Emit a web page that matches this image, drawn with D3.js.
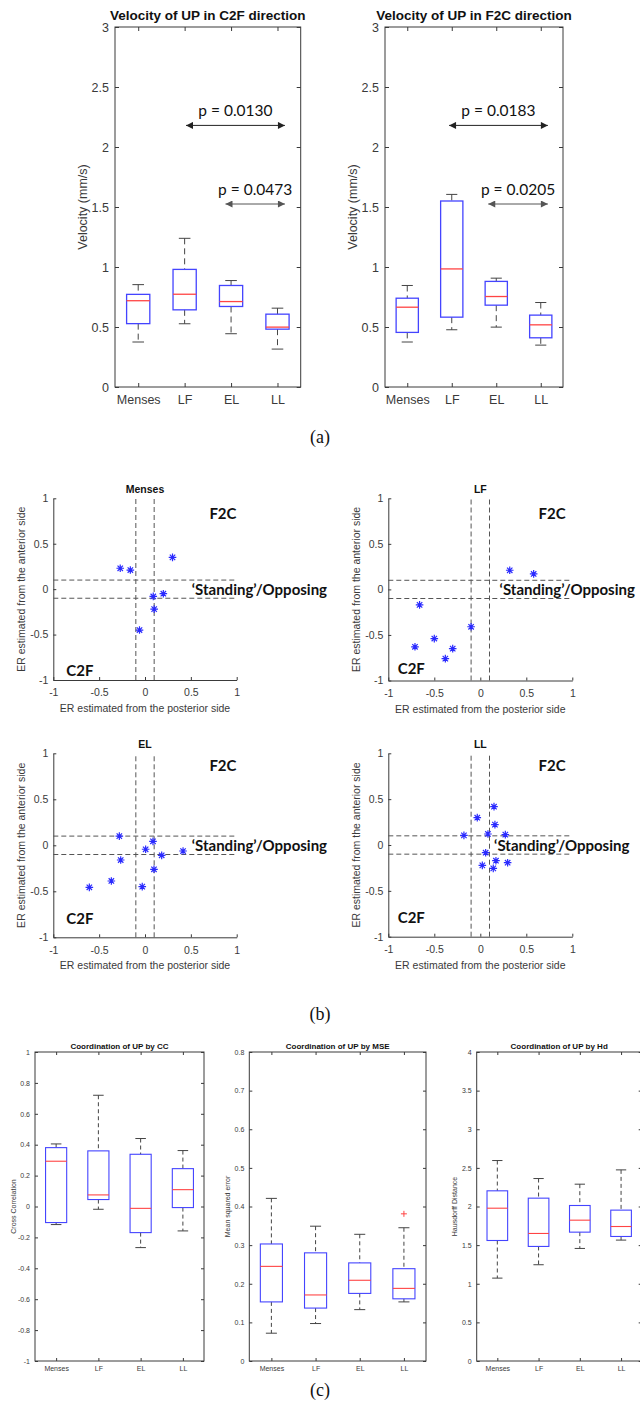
<!DOCTYPE html>
<html>
<head>
<meta charset="utf-8">
<script src="https://cdn.jsdelivr.net/npm/d3@7"></script>
<style>
  body { margin: 0; background: #fff; }
  svg { display: block; }
</style>
</head>
<body>
<script>
const categories = ["Menses", "LF", "EL", "LL"];

// box stats per phase: [lower whisker, q1, median, q3, upper whisker]
const c2fVelocity = [
  [0.375, 0.528, 0.719, 0.772, 0.853],
  [0.527, 0.643, 0.773, 0.98, 1.239],
  [0.444, 0.671, 0.712, 0.846, 0.887],
  [0.316, 0.482, 0.499, 0.607, 0.657]
];
const f2cVelocity = [
  [0.375, 0.455, 0.665, 0.74, 0.846],
  [0.477, 0.582, 0.984, 1.55, 1.605],
  [0.499, 0.682, 0.754, 0.88, 0.907],
  [0.349, 0.41, 0.518, 0.599, 0.704]
];
const velocityTicks = [0, 0.5, 1, 1.5, 2, 2.5, 3];

// significance brackets: [from phase, to phase, velocity, label]
const c2fPValues = [[2.03, 4.16, 2.18, "p = 0.0130"], [2.88, 4.16, 1.525, "p = 0.0473"]];
const f2cPValues = [[1.94, 4.16, 2.18, "p = 0.0183"], [2.82, 4.16, 1.525, "p = 0.0205"]];

// ER points: [posterior side, anterior side]
const mensesER = [[-0.27, 0.23], [-0.16, 0.21], [0.30, 0.35], [0.09, -0.08], [0.20, -0.05], [0.10, -0.22], [-0.06, -0.45]];
const lfER = [[-0.66, -0.17], [-0.71, -0.63], [-0.50, -0.54], [-0.38, -0.76], [-0.30, -0.65], [-0.10, -0.41], [0.32, 0.21], [0.58, 0.17]];
const elER = [[-0.28, 0.10], [-0.265, -0.16], [-0.607, -0.457], [-0.367, -0.388], [-0.03, -0.449], [0.007, -0.043], [0.087, 0.043], [0.182, -0.109], [0.098, -0.261], [0.415, -0.062]];
const llER = [[-0.178, 0.105], [-0.033, 0.298], [0.083, 0.12], [0.149, 0.418], [0.159, 0.222], [0.272, 0.113], [0.058, -0.084], [0.022, -0.222], [0.141, -0.255], [0.17, -0.171], [0.297, -0.193]];
const erBand = [-0.1, 0.1];
const erTicks = [-1, -0.5, 0, 0.5, 1];

const ccStats = [
  [-0.117, -0.104, 0.293, 0.381, 0.405],
  [-0.018, 0.045, 0.075, 0.36, 0.72],
  [-0.266, -0.169, -0.012, 0.338, 0.44],
  [-0.158, -0.007, 0.109, 0.245, 0.362]
];
const mseStats = [
  [0.072, 0.153, 0.245, 0.303, 0.421],
  [0.097, 0.137, 0.171, 0.28, 0.349],
  [0.133, 0.175, 0.209, 0.254, 0.328],
  [0.153, 0.161, 0.188, 0.239, 0.345]
];
const mseOutliers = [[4, 0.381]];
const hdStats = [
  [1.073, 1.56, 1.978, 2.203, 2.595],
  [1.246, 1.483, 1.651, 2.108, 2.362],
  [1.457, 1.668, 1.823, 2.013, 2.289],
  [1.565, 1.612, 1.741, 1.953, 2.474]
];
const ccTicks = [-1, -0.8, -0.6, -0.4, -0.2, 0, 0.2, 0.4, 0.6, 0.8, 1];
const mseTicks = [0, 0.1, 0.2, 0.3, 0.4, 0.5, 0.6, 0.7, 0.8];
const hdTicks = [0, 0.5, 1, 1.5, 2, 2.5, 3, 3.5, 4];

const AXIS = "#3a3a3a";
const BLUE = "#4444ff";
const RED = "#ff4444";
const WHISK = "#444";
const SANS = "'Liberation Sans', Arial, sans-serif";
const CALIBRI = "Lato, 'Open Sans', sans-serif";

const svg = d3.select("body").append("svg")
  .attr("width", 640).attr("height", 1414)
  .style("font-family", SANS);

const defs = svg.append("defs");
defs.append("marker")
  .attr("id", "head")
  .attr("viewBox", "0 0 10 10")
  .attr("refX", 10).attr("refY", 5)
  .attr("markerWidth", 8).attr("markerHeight", 7)
  .attr("markerUnits", "userSpaceOnUse")
  .attr("orient", "auto-start-reverse")
  .append("path").attr("d", "M0,0L10,5L0,10z").attr("fill", "context-stroke");

function styleAxis(sel, size) {
  sel.attr("font-family", null).attr("font-size", size).attr("color", AXIS);
  sel.selectAll(".tick text").attr("fill", AXIS);
}

function boxPanel(o) {
  const x = d3.scaleLinear().domain([0.5, 4.5]).range([o.left, o.right]);
  const y = d3.scaleLinear().domain(o.domain).range([o.bottom, o.top]);
  const g = svg.append("g");
  const phases = [1, 2, 3, 4];

  g.append("g").attr("transform", `translate(${o.left},0)`)
    .call(d3.axisLeft(y).tickValues(o.yTicks).tickFormat(d => String(d))
      .tickSizeInner(-o.tick).tickSizeOuter(0).tickPadding(o.padY))
    .call(styleAxis, o.font);
  g.append("g").attr("transform", `translate(${o.right},0)`)
    .call(d3.axisRight(y).tickValues(o.yTicks).tickFormat(() => "")
      .tickSizeInner(-o.tick).tickSizeOuter(0))
    .call(styleAxis, o.font);
  g.append("g").attr("transform", `translate(0,${o.bottom})`)
    .call(d3.axisBottom(x).tickValues(phases).tickFormat(d => categories[d - 1])
      .tickSizeInner(-o.tick).tickSizeOuter(0).tickPadding(o.padX))
    .call(styleAxis, o.font);
  g.append("g").attr("transform", `translate(0,${o.top})`)
    .call(d3.axisTop(x).tickValues(phases).tickFormat(() => "")
      .tickSizeInner(-o.tick).tickSizeOuter(0))
    .call(styleAxis, o.font);
  g.selectAll(".domain").remove();
  g.append("rect")
    .attr("x", o.left).attr("y", o.top)
    .attr("width", o.right - o.left).attr("height", o.bottom - o.top)
    .attr("fill", "none").attr("stroke", AXIS);

  const half = 0.25, cap = 0.125;
  const box = g.selectAll(".box").data(o.stats).join("g").attr("class", "box");
  box.append("line")
    .attr("x1", (d, i) => x(i + 1)).attr("x2", (d, i) => x(i + 1))
    .attr("y1", d => y(d[4])).attr("y2", d => y(d[3]))
    .attr("stroke", WHISK).attr("stroke-dasharray", o.dash);
  box.append("line")
    .attr("x1", (d, i) => x(i + 1)).attr("x2", (d, i) => x(i + 1))
    .attr("y1", d => y(d[1])).attr("y2", d => y(d[0]))
    .attr("stroke", WHISK).attr("stroke-dasharray", o.dash);
  [0, 4].forEach(k => {
    box.append("line")
      .attr("x1", (d, i) => x(i + 1 - cap)).attr("x2", (d, i) => x(i + 1 + cap))
      .attr("y1", d => y(d[k])).attr("y2", d => y(d[k]))
      .attr("stroke", WHISK);
  });
  box.append("rect")
    .attr("x", (d, i) => x(i + 1 - half))
    .attr("width", x(1 + half) - x(1 - half))
    .attr("y", d => y(d[3]))
    .attr("height", d => y(d[1]) - y(d[3]))
    .attr("fill", "none").attr("stroke", BLUE).attr("stroke-width", o.boxW);
  box.append("line")
    .attr("x1", (d, i) => x(i + 1 - half)).attr("x2", (d, i) => x(i + 1 + half))
    .attr("y1", d => y(d[2])).attr("y2", d => y(d[2]))
    .attr("stroke", RED).attr("stroke-width", o.boxW);

  if (o.outliers) {
    g.selectAll(".out").data(o.outliers).join("path")
      .attr("transform", d => `translate(${x(d[0])},${y(d[1])})`)
      .attr("d", "M-3,0H3M0,-3V3")
      .attr("stroke", RED).attr("fill", "none");
  }

  if (o.pvalues) {
    const p = g.selectAll(".pv").data(o.pvalues).join("g");
    p.append("line")
      .attr("x1", d => x(d[0])).attr("x2", d => x(d[1]))
      .attr("y1", d => y(d[2])).attr("y2", d => y(d[2]))
      .attr("stroke", (d, i) => i === 0 ? "#222" : "#555")
      .attr("marker-start", "url(#head)").attr("marker-end", "url(#head)");
    p.append("text")
      .attr("x", d => (x(d[0]) + x(d[1])) / 2)
      .attr("y", d => y(d[2]) - 9)
      .attr("text-anchor", "middle")
      .attr("font-family", CALIBRI).attr("font-size", 15.5)
      .attr("fill", "#111")
      .text(d => d[3]);
  }

  g.append("text")
    .attr("x", (o.left + o.right) / 2).attr("y", o.top - o.titleGap)
    .attr("text-anchor", "middle").attr("font-weight", "bold")
    .attr("font-size", o.titleSize).attr("fill", "#111")
    .text(o.title);
  g.append("text")
    .attr("transform", `translate(${o.left - o.ylabelGap},${(o.top + o.bottom) / 2}) rotate(-90)`)
    .attr("text-anchor", "middle").attr("dominant-baseline", "central")
    .attr("font-size", o.font).attr("fill", AXIS)
    .text(o.ylabel);
}

function erPanel(o) {
  const x = d3.scaleLinear().domain([-1, 1]).range([o.left, o.right]);
  const y = d3.scaleLinear().domain([-1, 1]).range([o.bottom, o.top]);
  const g = svg.append("g");

  g.append("g").attr("transform", `translate(${o.left},0)`)
    .call(d3.axisLeft(y).tickValues(erTicks).tickFormat(d => String(d))
      .tickSizeInner(-3).tickSizeOuter(0).tickPadding(5))
    .call(styleAxis, 10.5);
  g.append("g").attr("transform", `translate(0,${o.bottom})`)
    .call(d3.axisBottom(x).tickValues(erTicks).tickFormat(d => String(d))
      .tickSizeInner(-3).tickSizeOuter(0).tickPadding(9))
    .call(styleAxis, 10.5);

  erBand.forEach(v => {
    g.append("line")
      .attr("x1", x(v)).attr("x2", x(v)).attr("y1", y(-1)).attr("y2", y(1))
      .attr("stroke", "#555").attr("stroke-dasharray", "5,3");
    g.append("line")
      .attr("x1", x(-1)).attr("x2", x(1)).attr("y1", y(v)).attr("y2", y(v))
      .attr("stroke", "#555").attr("stroke-dasharray", "5,3");
  });

  g.selectAll(".pt").data(o.points).join("path")
    .attr("transform", d => `translate(${x(d[0])},${y(d[1])})`)
    .attr("d", "M-3.8,0H3.8M0,-3.8V3.8M-2.7,-2.7L2.7,2.7M-2.7,2.7L2.7,-2.7")
    .attr("stroke", "#2a2aff").attr("stroke-width", 1.2).attr("fill", "none");

  g.append("text")
    .attr("x", (o.left + o.right) / 2).attr("y", o.top - 9)
    .attr("text-anchor", "middle").attr("dominant-baseline", "central")
    .attr("font-weight", "bold").attr("font-size", 10.5).attr("fill", "#111")
    .text(o.title);

  const q = o.labels;
  g.append("text").attr("x", x(q.f2c[0])).attr("y", y(q.f2c[1]))
    .attr("text-anchor", "middle").attr("dominant-baseline", "central")
    .attr("font-family", CALIBRI).attr("font-weight", "bold").attr("font-size", 15)
    .attr("fill", "#111").text("F2C");
  g.append("text").attr("x", x(q.c2f[0])).attr("y", y(q.c2f[1]))
    .attr("text-anchor", "middle").attr("dominant-baseline", "central")
    .attr("font-family", CALIBRI).attr("font-weight", "bold").attr("font-size", 15)
    .attr("fill", "#111").text("C2F");
  g.append("text").attr("x", x(q.stand[0])).attr("y", y(q.stand[1]))
    .attr("text-anchor", "start").attr("dominant-baseline", "central")
    .attr("font-family", CALIBRI).attr("font-weight", "bold").attr("font-size", 15)
    .attr("fill", "#111").text("\u2018Standing\u2019/Opposing");

  g.append("text")
    .attr("x", (o.left + o.right) / 2).attr("y", o.bottom + 28)
    .attr("text-anchor", "middle").attr("dominant-baseline", "central")
    .attr("font-size", 10.5).attr("fill", AXIS)
    .text("ER estimated from the posterior side");
  g.append("text")
    .attr("transform", `translate(${o.left - 32},${(o.top + o.bottom) / 2}) rotate(-90)`)
    .attr("text-anchor", "middle").attr("dominant-baseline", "central")
    .attr("font-size", 10.5).attr("fill", AXIS)
    .text("ER estimated from the anterior side");
}

// (a) velocity
const velBase = { top: 27, bottom: 387, domain: [0, 3], yTicks: velocityTicks, font: 12.5,
  titleSize: 13.5, titleGap: 7, tick: 4, padY: 6, padX: 8, dash: "6,4", boxW: 1.3, ylabelGap: 32 };
boxPanel(Object.assign({}, velBase, { left: 115, right: 300.7, stats: c2fVelocity,
  pvalues: c2fPValues, title: "Velocity of UP in C2F direction", ylabel: "Velocity (mm/s)" }));
boxPanel(Object.assign({}, velBase, { left: 385, right: 563, stats: f2cVelocity,
  pvalues: f2cPValues, title: "Velocity of UP in F2C direction", ylabel: "Velocity (mm/s)" }));

// (b) ER scatter
erPanel({ left: 53.3, right: 236.7, top: 498.3, bottom: 680, points: mensesER, title: "Menses",
  labels: { f2c: [0.85, 0.84], c2f: [-0.71, -0.89], stand: [0.51, 0] } });
erPanel({ left: 388.3, right: 572.3, top: 498.3, bottom: 680.5, points: lfER, title: "LF",
  labels: { f2c: [0.78, 0.84], c2f: [-0.75, -0.865], stand: [0.21, 0] } });
erPanel({ left: 53.3, right: 236.7, top: 753.3, bottom: 937.3, points: elER, title: "EL",
  labels: { f2c: [0.85, 0.873], c2f: [-0.71, -0.79], stand: [0.51, 0] } });
erPanel({ left: 388.3, right: 572.3, top: 753.3, bottom: 936.7, points: llER, title: "LL",
  labels: { f2c: [0.78, 0.873], c2f: [-0.75, -0.79], stand: [0.15, 0] } });

// (c) coordination
const coBase = { top: 1052, bottom: 1361, font: 7, titleSize: 8, titleGap: 3, tick: 3,
  padY: 5, padX: 5, dash: "4,3", boxW: 1.1, ylabelGap: 22 };
boxPanel(Object.assign({}, coBase, { left: 35, right: 204, domain: [-1, 1], yTicks: ccTicks,
  stats: ccStats, title: "Coordination of UP by CC", ylabel: "Cross Correlation" }));
boxPanel(Object.assign({}, coBase, { left: 249.3, right: 426, domain: [0, 0.8], yTicks: mseTicks,
  stats: mseStats, outliers: mseOutliers, title: "Coordination of UP by MSE", ylabel: "Mean squared error" }));
boxPanel(Object.assign({}, coBase, { left: 476.7, right: 641.7, domain: [0, 4], yTicks: hdTicks,
  stats: hdStats, title: "Coordination of UP by Hd", ylabel: "Hausdorff Distance" }));

// sub-figure letters
[["(a)", 437], ["(b)", 1014], ["(c)", 1390]].forEach(d => {
  svg.append("text")
    .attr("x", 320).attr("y", d[1])
    .attr("text-anchor", "middle").attr("dominant-baseline", "central")
    .attr("font-family", "'Liberation Serif', 'Times New Roman', serif")
    .attr("font-size", 18).attr("fill", "#111")
    .text(d[0]);
});
</script>
</body>
</html>
